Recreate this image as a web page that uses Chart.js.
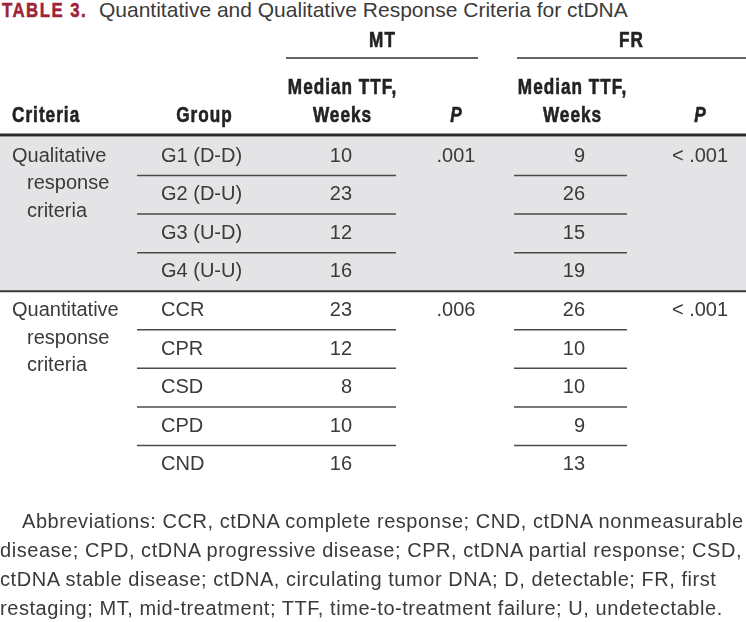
<!DOCTYPE html>
<html>
<head>
<meta charset="utf-8">
<script src="https://cdn.jsdelivr.net/npm/chart.js@4.4.0/dist/chart.umd.min.js"></script>
<style>
  html, body { margin: 0; padding: 0; background: #fff; }
  body { width: 746px; height: 622px; position: relative; overflow: hidden;
         font-family: "Liberation Sans", Arial, sans-serif; color: #3a3a3a; }
  #wrap { position: absolute; left: 0; top: 0; width: 746px; height: 622px; }
  #title { position: absolute; left: 0; top: -2px; width: 746px; height: 26px;
           font-size: 21px; line-height: 24px; white-space: nowrap; }
  #title b { position: absolute; left: 2px; color: #9c2436; letter-spacing: 1.85px;
             -webkit-text-stroke: 0.5px #9c2436;
             display: inline-block; transform: scaleX(0.8); transform-origin: 0 0; }
  #title span { position: absolute; left: 99px; }
  #note { position: absolute; left: 0; top: 507px; width: 746px; font-size: 20px;
          line-height: 29px; white-space: nowrap; color: #3a3a3a; letter-spacing: 0.55px; }
  #note div:first-child { padding-left: 22px; }
</style>
</head>
<body>
<div id="title"><b>TABLE 3.</b><span>Quantitative and Qualitative Response Criteria for ctDNA</span></div>
<div id="wrap"><canvas id="tableChart"></canvas></div>
<div id="note">
  <div>Abbreviations: CCR, ctDNA complete response; CND, ctDNA nonmeasurable</div>
  <div>disease; CPD, ctDNA progressive disease; CPR, ctDNA partial response; CSD,</div>
  <div>ctDNA stable disease; ctDNA, circulating tumor DNA; D, detectable; FR, first</div>
  <div>restaging; MT, mid-treatment; TTF, time-to-treatment failure; U, undetectable.</div>
</div>
<script>
// table data
const groups = ['G1 (D-D)', 'G2 (D-U)', 'G3 (U-D)', 'G4 (U-U)', 'CCR', 'CPR', 'CSD', 'CPD', 'CND'];
const mtMedian = [10, 23, 12, 16, 23, 12, 8, 10, 16];
const frMedian = [9, 26, 15, 19, 26, 10, 10, 9, 13];
const sectionNames = [['Qualitative', 'response', 'criteria'], ['Quantitative', 'response', 'criteria']];
const sectionSizes = [4, 5];
const mtP = ['.001', '.006'];
const frP = ['< .001', '< .001'];
const shadedSections = [true, false];

// column layout (x scale units = px)
const col = { crit: 12, critIndent: 27, group: 161, groupHead: 204, mtHead: 342, mtNum: 352,
              mtP: 456, frHead: 572, frNum: 585, frP: 700 };

const bodyFont = '20px "Liberation Sans", Arial, sans-serif';
const headFont = 'bold 22px "Liberation Sans", Arial, sans-serif';
const headItalic = 'italic bold 22px "Liberation Sans", Arial, sans-serif';

// which rows belong to which section
const rowSection = [];
sectionSizes.forEach((n, s) => { for (let i = 0; i < n; i++) rowSection.push(s); });
const shade = rowSection.map(s => shadedSections[s] ? [0, 746] : null);

function line(ctx, x1, x2, y, w, color) {
    ctx.beginPath();
    ctx.lineWidth = w;
    ctx.strokeStyle = color;
    ctx.moveTo(x1, y);
    ctx.lineTo(x2, y);
    ctx.stroke();
}

function text(ctx, s, x, y, align, font, color) {
    ctx.font = font;
    ctx.fillStyle = color;
    ctx.textAlign = align;
    ctx.textBaseline = 'middle';
    ctx.letterSpacing = '0px';
    ctx.fillText(s, x, y);
}

// condensed bold header text
function headText(ctx, s, x, y, align, font) {
    ctx.save();
    ctx.translate(x, y);
    ctx.scale(0.78, 1);
    ctx.font = font || headFont;
    ctx.fillStyle = '#222';
    ctx.strokeStyle = '#222';
    ctx.lineWidth = 0.6;
    ctx.textAlign = align;
    ctx.textBaseline = 'middle';
    ctx.letterSpacing = '1.3px';
    const dx = align === 'center' ? 0.65 : 0;
    ctx.fillText(s, dx, 0);
    ctx.strokeText(s, dx, 0);
    ctx.restore();
}

const tablePlugin = {
    id: 'tableCells',
    afterDatasetsDraw(chart) {
        const ctx = chart.ctx;
        const xs = chart.scales.x, ys = chart.scales.y;
        const px = v => xs.getPixelForValue(v);
        const top = chart.chartArea.top;
        const rowH = ys.getPixelForValue(1) - ys.getPixelForValue(0);
        const body = '#3a3a3a';

        ctx.save();
        // header
        headText(ctx, 'MT', px(382), top - 96, 'center');
        headText(ctx, 'FR', px(631), top - 96, 'center');
        line(ctx, px(286), px(478), top - 79, 1.5, '#333');
        line(ctx, px(517), px(746), top - 79, 1.5, '#333');
        headText(ctx, 'Median TTF,', px(col.mtHead), top - 49, 'center');
        headText(ctx, 'Weeks', px(col.mtHead), top - 21, 'center');
        headText(ctx, 'Median TTF,', px(col.frHead), top - 49, 'center');
        headText(ctx, 'Weeks', px(col.frHead), top - 21, 'center');
        headText(ctx, 'Criteria', px(col.crit), top - 21, 'left');
        headText(ctx, 'Group', px(col.groupHead), top - 21, 'center');
        headText(ctx, 'P', px(col.mtP), top - 21, 'center', headItalic);
        headText(ctx, 'P', px(col.frP), top - 21, 'center', headItalic);
        line(ctx, px(0), px(746), top - 2, 3, '#2b2b2b');

        // body rows
        let first = 0;
        sectionSizes.forEach((n, s) => {
            const y0 = ys.getPixelForValue(first);
            const names = sectionNames[s];
            text(ctx, names[0], px(col.crit), y0, 'left', bodyFont, body);
            text(ctx, names[1], px(col.critIndent), y0 + 27.5, 'left', bodyFont, body);
            text(ctx, names[2], px(col.critIndent), y0 + 55, 'left', bodyFont, body);
            text(ctx, mtP[s], px(col.mtP), y0, 'center', bodyFont, body);
            text(ctx, frP[s], px(col.frP), y0, 'center', bodyFont, body);
            for (let i = first; i < first + n; i++) {
                const y = ys.getPixelForValue(i);
                text(ctx, groups[i], px(col.group), y, 'left', bodyFont, body);
                text(ctx, String(mtMedian[i]), px(col.mtNum), y, 'right', bodyFont, body);
                text(ctx, String(frMedian[i]), px(col.frNum), y, 'right', bodyFont, body);
                if (i < first + n - 1) {
                    line(ctx, px(137), px(396), y + rowH / 2, 1.5, '#4a4a4a');
                    line(ctx, px(514), px(627), y + rowH / 2, 1.5, '#4a4a4a');
                }
            }
            first += n;
            if (s < sectionSizes.length - 1) {
                line(ctx, px(0), px(746), ys.getPixelForValue(first) - rowH / 2, 2, '#3a3a3a');
            }
        });
        ctx.restore();
    }
};

new Chart(document.getElementById('tableChart'), {
    type: 'bar',
    data: {
        labels: groups,
        datasets: [{
            label: 'shade',
            data: shade,
            backgroundColor: '#e4e3e6',
            borderWidth: 0,
            barPercentage: 1,
            categoryPercentage: 1
        }]
    },
    options: {
        indexAxis: 'y',
        responsive: true,
        maintainAspectRatio: false,
        animation: false,
        events: [],
        layout: { padding: { top: 137, bottom: 138, left: 0, right: 0 } },
        plugins: {
            legend: { display: false },
            tooltip: { enabled: false }
        },
        scales: {
            x: { type: 'linear', min: 0, max: 746, display: false },
            y: { type: 'category', display: false, offset: true }
        }
    },
    plugins: [tablePlugin]
});
</script>
</body>
</html>
